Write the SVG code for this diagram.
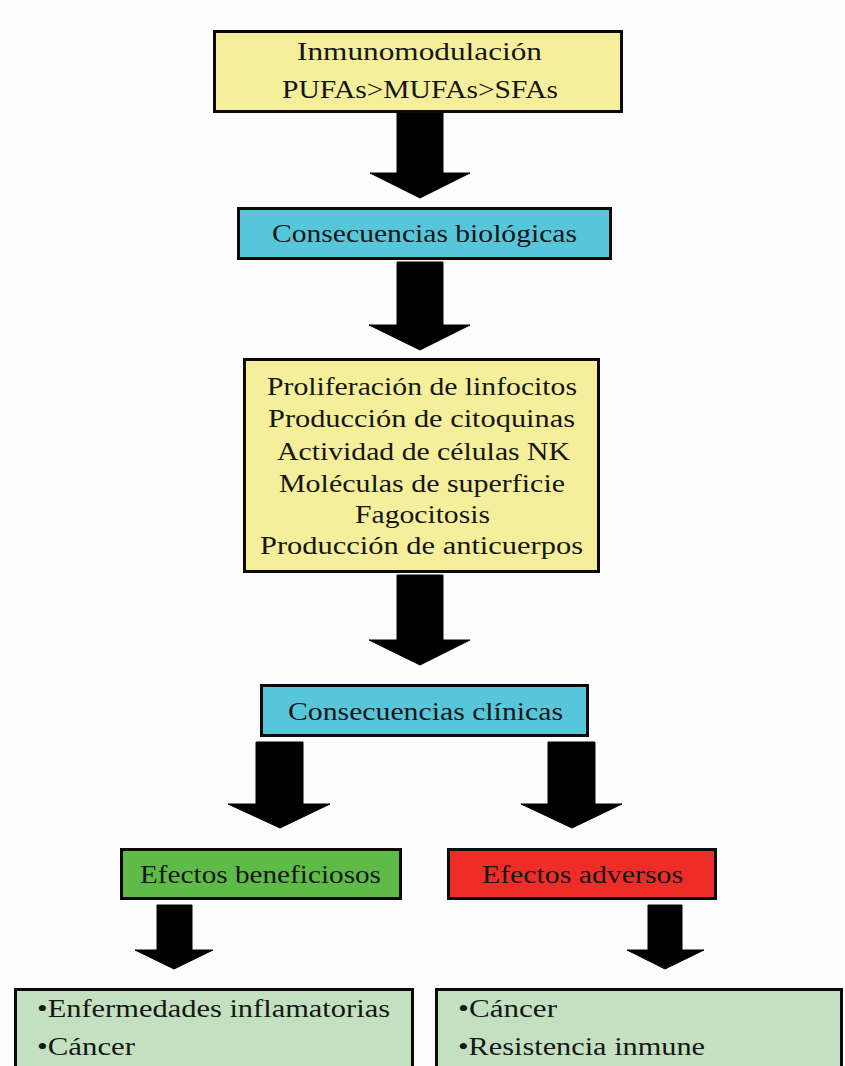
<svg xmlns="http://www.w3.org/2000/svg" width="845" height="1066" viewBox="0 0 845 1066">
<style>
.box{stroke:#0a0a0a;stroke-width:3}
.y{fill:#F5EF9C}
.c{fill:#58C6DA}
.g{fill:#5FBB48}
.r{fill:#EE2D29}
.lg{fill:#C3E1C0}
text{font-family:"Liberation Serif","Times New Roman",serif;font-size:25px;fill:#161616}
.m{text-anchor:middle}
.arrow{fill:#000;stroke:#000;stroke-width:1;stroke-linejoin:miter}
</style>
<rect width="845" height="1066" fill="#FDFDFD"/>
<g id="connectors">
<polygon class="arrow" points="397,112 443,112 443,173 470,173 420,198 370,173 397,173"/>
<polygon class="arrow" points="397,262 443,262 443,325 470,325 420,350 369,325 397,325"/>
<polygon class="arrow" points="397,575 443,575 443,640 470,640 420,665 369,640 397,640"/>
<polygon class="arrow" points="256,742 303,742 303,804 330,804 280,828 228,804 256,804"/>
<polygon class="arrow" points="548,742 595,742 595,804 622,804 572,828 521,804 548,804"/>
<polygon class="arrow" points="157,905 192,905 192,950 213,950 174,969 135,950 157,950"/>
<polygon class="arrow" points="648,905 682,905 682,950 704,950 665,969 627,950 648,950"/>
</g>
<g id="inmunomodulacion">
<rect class="box y" x="214.5" y="31.5" width="407" height="80"/>
<text class="m" x="419.5" y="60" textLength="245" lengthAdjust="spacingAndGlyphs">Inmunomodulación</text>
<text class="m" x="420" y="98" textLength="276" lengthAdjust="spacingAndGlyphs">PUFAs&gt;MUFAs&gt;SFAs</text>
</g>
<g id="consecuencias-biologicas">
<rect class="box c" x="238.5" y="208.5" width="372" height="50"/>
<text class="m" x="424.5" y="242" textLength="305" lengthAdjust="spacingAndGlyphs">Consecuencias biológicas</text>
</g>
<g id="efectos-biologicos">
<rect class="box y" x="244.5" y="359.5" width="354" height="212"/>
<text class="m" x="422" y="395" textLength="310" lengthAdjust="spacingAndGlyphs">Proliferación de linfocitos</text>
<text class="m" x="421.5" y="427" textLength="307" lengthAdjust="spacingAndGlyphs">Producción de citoquinas</text>
<text class="m" x="423.5" y="460" textLength="293" lengthAdjust="spacingAndGlyphs">Actividad de células NK</text>
<text class="m" x="422" y="492" textLength="286" lengthAdjust="spacingAndGlyphs">Moléculas de superficie</text>
<text class="m" x="422.5" y="523" textLength="135" lengthAdjust="spacingAndGlyphs">Fagocitosis</text>
<text class="m" x="421.5" y="554" textLength="323" lengthAdjust="spacingAndGlyphs">Producción de anticuerpos</text>
</g>
<g id="consecuencias-clinicas">
<rect class="box c" x="261.5" y="685.5" width="326" height="50"/>
<text class="m" x="425.5" y="720" textLength="275" lengthAdjust="spacingAndGlyphs">Consecuencias clínicas</text>
</g>
<g id="efectos-beneficiosos">
<rect class="box g" x="121.5" y="849.5" width="279" height="49"/>
<text class="m" x="260.5" y="883" textLength="241" lengthAdjust="spacingAndGlyphs">Efectos beneficiosos</text>
</g>
<g id="efectos-adversos">
<rect class="box r" x="448.5" y="849.5" width="267" height="49"/>
<text class="m" x="582.5" y="883" textLength="201" lengthAdjust="spacingAndGlyphs">Efectos adversos</text>
</g>
<g id="lista-beneficiosos">
<rect class="box lg" x="15.5" y="989.5" width="397" height="90"/>
<text x="37" y="1017" textLength="353" lengthAdjust="spacingAndGlyphs">•Enfermedades inflamatorias</text>
<text x="37" y="1055" textLength="98" lengthAdjust="spacingAndGlyphs">•Cáncer</text>
</g>
<g id="lista-adversos">
<rect class="box lg" x="436.5" y="989.5" width="405" height="90"/>
<text x="458" y="1017" textLength="99" lengthAdjust="spacingAndGlyphs">•Cáncer</text>
<text x="458" y="1055" textLength="247" lengthAdjust="spacingAndGlyphs">•Resistencia inmune</text>
</g>
</svg>
